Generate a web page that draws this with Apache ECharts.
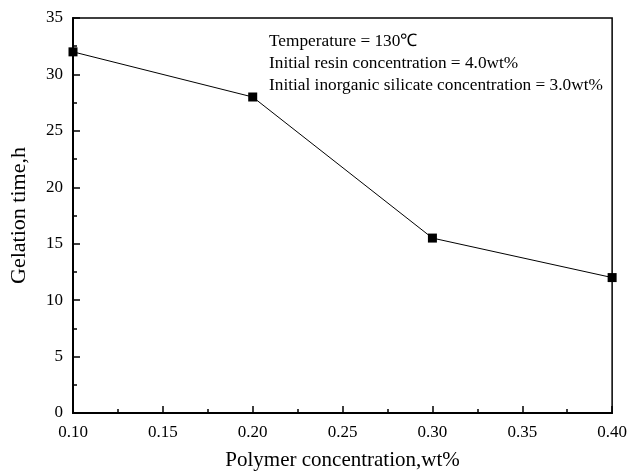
<!DOCTYPE html>
<html>
<head>
<meta charset="utf-8">
<script src="https://cdn.jsdelivr.net/npm/echarts@6/dist/echarts.min.js"></script>
</head>
<body style="margin:0;background:#fff;">
<div id="main" style="width:630px;height:476px;"></div>
<script type="text/javascript">
    // polymer concentration (wt%) vs gelation time (h)
    var polymerConc = [0.10, 0.20, 0.30, 0.40];
    var gelTime = [32, 28, 15.5, 12];
    var noteLines = [
        'Temperature = 130\u2103',
        'Initial resin concentration = 4.0wt%',
        'Initial inorganic silicate concentration = 3.0wt%'
    ];

    var seriesData = [];
    for (var i = 0; i < polymerConc.length; i++) {
        seriesData.push([polymerConc[i], gelTime[i]]);
    }

    var chart = echarts.init(document.getElementById('main'));
    var font = 'Liberation Serif, Times New Roman, serif';
    var option = {
        backgroundColor: '#fff',
        animation: false,
        grid: {
            left: 73, top: 18, right: 15, bottom: 59,
            show: true, borderColor: '#000', borderWidth: 1.5
        },
        xAxis: {
            type: 'value',
            min: 0.1, max: 0.4, interval: 0.05,
            name: 'Polymer concentration,wt%',
            nameLocation: 'middle', nameGap: 37,
            nameTextStyle: { fontFamily: font, fontSize: 21, color: '#000' },
            axisLine: { lineStyle: { color: '#000', width: 2 } },
            axisTick: { inside: true, length: 7, lineStyle: { color: '#000', width: 1.5 } },
            minorTick: { show: true, splitNumber: 2, length: 4, lineStyle: { color: '#000', width: 1.5 } },
            axisLabel: {
                fontFamily: font, fontSize: 17, color: '#000', margin: 11,
                formatter: function (v) { return v.toFixed(2); }
            },
            splitLine: { show: false }
        },
        yAxis: {
            type: 'value',
            min: 0, max: 35, interval: 5,
            name: 'Gelation time,h',
            nameLocation: 'middle', nameGap: 43,
            nameTextStyle: { fontFamily: font, fontSize: 22, color: '#000' },
            axisLine: { lineStyle: { color: '#000', width: 2 } },
            axisTick: { inside: true, length: 7, lineStyle: { color: '#000', width: 1.5 } },
            minorTick: { show: true, splitNumber: 2, length: 4, lineStyle: { color: '#000', width: 1.5 } },
            axisLabel: { fontFamily: font, fontSize: 17, color: '#000', margin: 10 },
            splitLine: { show: false }
        },
        graphic: [{
            type: 'text',
            left: 269, top: 30,
            style: {
                text: noteLines.join('\n'),
                font: '17.3px ' + font,
                lineHeight: 22,
                fill: '#000'
            }
        }],
        series: [{
            type: 'line',
            data: seriesData,
            symbol: 'rect',
            symbolSize: 9,
            clip: true,
            itemStyle: { color: '#000' },
            lineStyle: { color: '#000', width: 1 }
        }]
    };
    chart.setOption(option);
</script>
</body>
</html>
